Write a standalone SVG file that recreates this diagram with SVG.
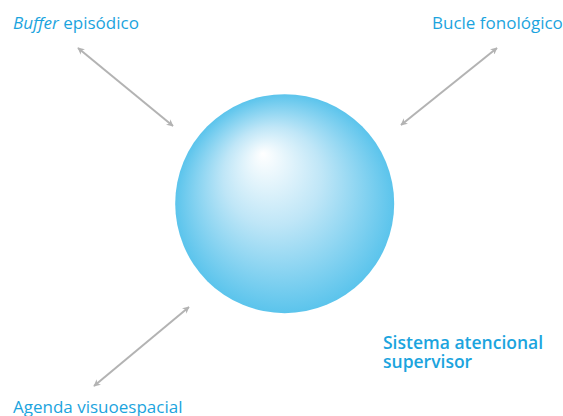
<svg xmlns="http://www.w3.org/2000/svg" width="563" height="416" viewBox="0 0 563 416">
<style>
.lbl{font-family:"Open Sans","Noto Sans","Liberation Sans",sans-serif;font-size:17px;fill:#1ba4de}
.bold{font-weight:600;font-size:17.5px}
.conn{stroke:#b3b3b3;stroke-width:2;fill:none;marker-start:url(#ah);marker-end:url(#ah)}
</style>
<defs>
<radialGradient id="sphere" cx="0.5" cy="0.5" r="0.5" fx="0.4" fy="0.27">
<stop offset="0" stop-color="#ffffff"/>
<stop offset="0.45" stop-color="#bfe6f7"/>
<stop offset="1" stop-color="#5bc4ec"/>
</radialGradient>
<marker id="ah" viewBox="0 0 10 10" refX="9" refY="5" markerWidth="7" markerHeight="7" orient="auto-start-reverse" markerUnits="userSpaceOnUse">
<path d="M0,0 L10,5 L0,10 L3,5 Z" fill="#b3b3b3"/>
</marker>
</defs>
<g id="connectors">
<line class="conn" x1="78" y1="48" x2="173" y2="126"/>
<line class="conn" x1="497" y1="48" x2="401" y2="125"/>
<line class="conn" x1="189" y1="307" x2="94" y2="386"/>
</g>
<g id="node-sas">
<circle cx="284.7" cy="203.7" r="109.5" fill="url(#sphere)"/>
<text class="lbl bold" x="383" y="349">Sistema atencional</text>
<text class="lbl bold" x="383" y="367.5">supervisor</text>
</g>
<g id="node-buffer">
<text class="lbl" x="13" y="29"><tspan font-style="italic">Buffer</tspan> episódico</text>
</g>
<g id="node-bucle">
<text class="lbl" x="432" y="29">Bucle fonológico</text>
</g>
<g id="node-agenda">
<text class="lbl" x="13" y="413">Agenda visuoespacial</text>
</g>
</svg>
